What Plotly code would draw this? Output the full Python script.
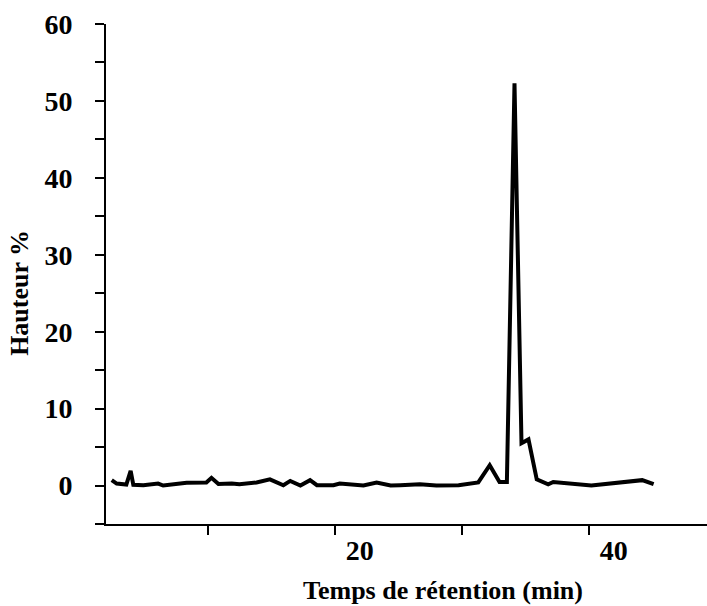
import plotly.graph_objects as go

# Retention time (min) and height (%)
retention_time = [2.45, 2.84, 3.6, 3.94, 4.15, 4.94, 6.1, 6.5, 8.35, 9.9, 10.3, 10.85,
                  11.9, 12.5, 13.85, 14.9, 15.96, 16.5, 17.3, 18.06, 18.6, 19.9, 20.4,
                  22.26, 23.3, 24.4, 25.15, 26.7, 28.0, 29.75, 31.3, 32.2, 32.97, 33.55,
                  34.15, 34.7, 35.25, 35.9, 36.8, 37.2, 40.2, 44.2, 45.1]
height_pct = [0.7, 0.26, 0.13, 1.9, 0.1, 0.03, 0.26, 0.0, 0.35, 0.4, 1.0, 0.2,
              0.25, 0.17, 0.4, 0.8, 0.04, 0.6, 0.0, 0.7, 0.04, 0.04, 0.26,
              0.0, 0.4, 0.0, 0.04, 0.17, 0.0, 0.04, 0.4, 2.64, 0.47, 0.47,
              52.3, 5.5, 6.0, 0.8, 0.17, 0.47, 0.0, 0.7, 0.17]

x_tick_vals = [10, 20, 30, 40]
x_tick_text = ["", "20", "", "40"]
y_tick_vals = [-5, 0, 5, 10, 15, 20, 25, 30, 35, 40, 45, 50, 55, 60]
y_tick_text = ["", "0", "", "10", "", "20", "", "30", "", "40", "", "50", "", "60"]

x_title = "Temps de rétention (min)"
y_title = "Hauteur %"

FONT = "Liberation Serif"

fig = go.Figure()
fig.add_trace(go.Scatter(
    x=retention_time, y=height_pct, mode="lines",
    line=dict(color="black", width=4), showlegend=False, hoverinfo="skip",
))

fig.update_layout(
    template="none",
    width=707, height=606,
    margin=dict(l=106, r=0, t=24, b=82, autoexpand=False),
    paper_bgcolor="white", plot_bgcolor="white",
    font=dict(family=FONT, color="black"),
    hovermode=False,
    xaxis=dict(
        range=[2, 49.3], showgrid=False, zeroline=False, automargin=False,
        showline=True, linecolor="black", linewidth=2,
        ticks="outside", ticklen=9, tickwidth=2, tickcolor="black",
        tickvals=x_tick_vals, ticktext=x_tick_text,
        tickfont=dict(family=FONT, size=28, color="black", weight="bold"),
        ticklabelshift=25, ticklabelstandoff=-9,
    ),
    yaxis=dict(
        range=[-5, 60], showgrid=False, zeroline=False, automargin=False,
        showline=True, linecolor="black", linewidth=2,
        ticks="outside", ticklen=9, tickwidth=2, tickcolor="black",
        tickvals=y_tick_vals, ticktext=y_tick_text,
        tickfont=dict(family=FONT, size=28, color="black", weight="bold"),
        ticklabelstandoff=17,
    ),
    annotations=[
        dict(text=x_title, xref="paper", yref="paper", x=0.561, y=-0.132,
             xanchor="center", yanchor="middle", showarrow=False,
             font=dict(family=FONT, size=26, color="black", weight="bold")),
        dict(text=y_title, xref="paper", yref="paper", x=-0.145, y=0.462,
             xanchor="center", yanchor="middle", showarrow=False, textangle=-90,
             font=dict(family=FONT, size=26, color="black", weight="bold")),
    ],
)

fig.write_html(
    "out.html",
    config={"displayModeBar": False},
    post_script="document.body.style.margin='0';document.body.style.padding='0';",
)
